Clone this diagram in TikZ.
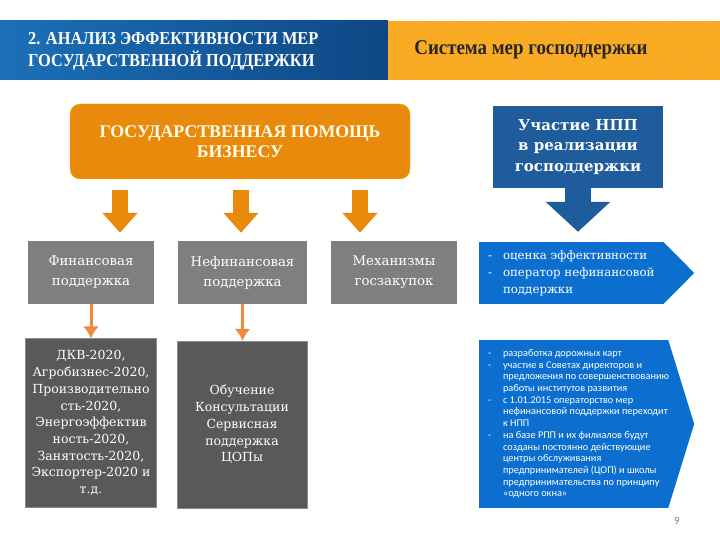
\documentclass[tikz,border=0pt]{standalone}
\usepackage{fontspec}
\setmainfont{Liberation Serif}
\setsansfont{Carlito}
\newfontfamily\headfont[FakeStretch=0.9]{Liberation Serif}
\newfontfamily\boxfont{DejaVu Serif}
\usetikzlibrary{arrows.meta}

\definecolor{headblueL}{HTML}{1C70B8}
\definecolor{headblueR}{HTML}{0E4784}
\definecolor{headorange}{HTML}{F9A81C}
\definecolor{stripe}{HTML}{FAAF2C}
\definecolor{helporange}{HTML}{EA8A0C}
\definecolor{linkorange}{HTML}{F0893C}
\definecolor{midgray}{HTML}{7F7F7F}
\definecolor{darkgray}{HTML}{595959}
\definecolor{nppblue}{HTML}{1F5C9C}
\definecolor{listblue}{HTML}{0C6FCF}

\newcommand{\dsh}{\makebox[15pt][l]{-}}
\newcommand{\hang}{\hspace*{15pt}}

\begin{document}
\begin{tikzpicture}[x=1pt,y=-1pt,
  graybox/.style={fill=midgray, text=white, inner sep=0pt, align=center,
    minimum height=63pt, font=\boxfont\fontsize{13.3}{20}\selectfont},
  darkbox/.style={fill=darkgray, draw=black!45, text=white, inner sep=0pt, align=center,
    font=\boxfont\fontsize{12.5}{16.7}\selectfont},
  bigarrow/.style={draw=helporange, line width=16pt, -{Triangle[length=20pt,width=34pt]},
    shorten <=11pt, shorten >=8pt},
  linkarrow/.style={draw=linkorange, line width=3pt, -{Latex[length=12pt,width=16pt]}},
  listbox/.style={fill=listblue, inner sep=0pt}]
\useasboundingbox (0,0) rectangle (720,540);

% header
\shade[left color=headblueL, right color=headblueR] (0,21) rectangle (388,80);
\fill[headorange] (388,21) rectangle (720,80);
\begin{scope}
\clip (388,21) rectangle (720,80);
\foreach \s in {388,392.5,...,790}
  \draw[stripe, line width=1.3pt] (\s-60,80) -- (\s,21);
\end{scope}
\node[anchor=west, align=left, text=white, inner sep=0pt,
  font=\headfont\bfseries\fontsize{18.2}{22}\selectfont] (title) at (28,51)
  {2. АНАЛИЗ ЭФФЕКТИВНОСТИ МЕР\\ГОСУДАРСТВЕННОЙ ПОДДЕРЖКИ};
\node[text=black!85, inner sep=0pt, font=\headfont\bfseries\fontsize{21}{22}\selectfont]
  (system) at (531,50) {Система мер господдержки};

% left part
\node[fill=helporange, draw=helporange!60!yellow, rounded corners=10pt, minimum width=340pt,
  minimum height=75pt, align=center, text=yellow!8,
  font=\bfseries\fontsize{17.8}{20}\selectfont] (help) at (240,141.5)
  {ГОСУДАРСТВЕННАЯ ПОМОЩЬ\\БИЗНЕСУ};

\node[graybox, minimum width=126pt] (fin) at (91,272.5) {Финансовая\\поддержка};
\node[graybox, minimum width=129pt] (nonfin) at (242.5,272.5) {Нефинансовая\\поддержка};
\node[graybox, minimum width=126pt] (proc) at (394,272.5) {Механизмы\\госзакупок};

\coordinate (a1) at (120,0);
\coordinate (a2) at (241,0);
\coordinate (a3) at (360,0);
\draw[bigarrow] (help.south -| a1) -- (fin.north -| a1);
\draw[bigarrow] (help.south -| a2) -- (nonfin.north -| a2);
\draw[bigarrow] (help.south -| a3) -- (proc.north -| a3);

\node[darkbox, minimum width=131pt, minimum height=169pt] (findet) at (91,423)
  {ДКВ-2020,\\Агробизнес-2020,\\Производительно\\сть-2020,\\Энергоэффектив\\ность-2020,\\Занятость-2020,\\Экспортер-2020 и\\т.д.};
\node[darkbox, minimum width=130pt, minimum height=167pt] (nonfindet) at (242,424.5)
  {Обучение\\Консультации\\Сервисная\\поддержка\\ЦОПы};

\draw[linkarrow] (fin.south) -- (fin.south |- findet.north);
\draw[linkarrow] (nonfin.south) -- (nonfin.south |- nonfindet.north);

% right part
\node[fill=nppblue, minimum width=170pt, minimum height=82pt, align=center, text=white,
  font=\boxfont\bfseries\fontsize{15}{20.5}\selectfont] (npp) at (578,147)
  {Участие НПП\\в реализации\\господдержки};

\node[listbox, minimum width=184pt, minimum height=62pt] (eval) at (571,273) {};
\fill[listblue] (eval.north east) -- ([xshift=31pt]eval.east) -- (eval.south east) -- cycle;
\node[anchor=west, align=left, text=white, inner sep=0pt,
  font=\boxfont\fontsize{11.8}{17}\selectfont] (evaltext) at ([xshift=9pt]eval.west)
  {\dsh оценка эффективности\\\dsh оператор нефинансовой\\\hang поддержки};

\draw[nppblue, line width=26pt, -{Triangle[length=30pt,width=63pt]}, shorten >=10pt]
  (npp.south) -- (npp.south |- eval.north);

\node[listbox, minimum width=189pt, minimum height=168pt] (work) at (573.5,424) {};
\fill[listblue] (work.north east) -- ([xshift=26pt]work.east) -- (work.south east) -- cycle;
\node[anchor=west, align=left, text=white, inner sep=0pt,
  font=\sffamily\fontsize{10.3}{11.7}\selectfont] (worktext) at ([xshift=9pt]work.west)
  {\dsh разработка дорожных карт\\
   \dsh участие в Советах директоров и\\
   \hang предложения по совершенствованию\\
   \hang работы институтов развития\\
   \dsh с 1.01.2015 операторство мер\\
   \hang нефинансовой поддержки переходит\\
   \hang к НПП\\
   \dsh на базе РПП и их филиалов будут\\
   \hang созданы постоянно действующие\\
   \hang центры обслуживания\\
   \hang предпринимателей (ЦОП) и школы\\
   \hang предпринимательства по принципу\\
   \hang «одного окна»};

\node[text=black!50, font=\sffamily\fontsize{11}{13}\selectfont] (page) at (677,521) {9};
\end{tikzpicture}
\end{document}
